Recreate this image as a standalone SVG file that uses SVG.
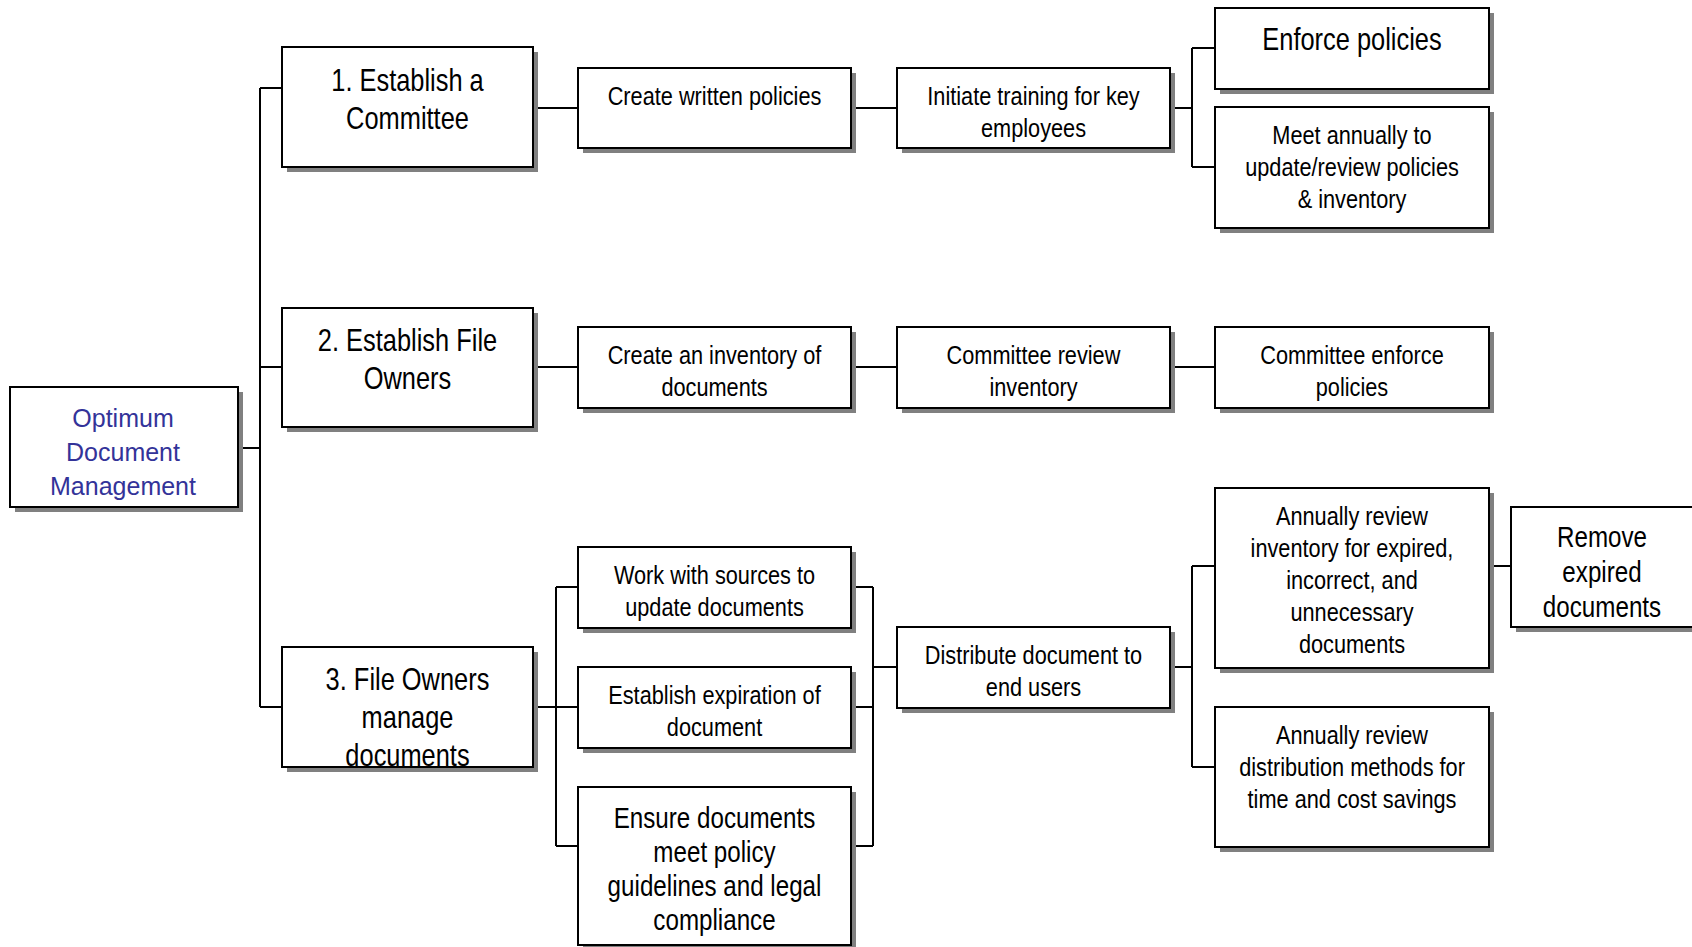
<svg xmlns="http://www.w3.org/2000/svg" width="1692" height="947" viewBox="0 0 1692 947">
  <style>
    .shadow { fill: #808080; }
    .box { fill: #ffffff; stroke: #000000; stroke-width: 2; }
    .wire { fill: none; stroke: #000000; stroke-width: 2; }
    text { font-family: "Liberation Sans", Arial, sans-serif; fill: #000000; text-anchor: middle; }
    .root { font-size: 25px; fill: #333399; }
    .lg { font-size: 31px; }
    .md { font-size: 29.5px; }
    .sm { font-size: 26.5px; }
  </style>
  <rect width="1692" height="947" fill="#ffffff"/>

  <!-- connectors -->
  <g id="connectors" class="wire">
    <path d="M237,448 H260 M260,88 V707 M260,88 H282 M260,367 H282 M260,707 H282"/>
    <path d="M533,108 H578 M851,108 H897 M1170,108 H1192 M1192,48 V167 M1192,48 H1215 M1192,167 H1215"/>
    <path d="M533,367 H578 M851,367 H897 M1170,367 H1215"/>
    <path d="M533,707 H556 M556,587 V846 M556,587 H578 M556,707 H578 M556,846 H578"/>
    <path d="M851,587 H873 M851,707 H873 M851,846 H873 M873,587 V846 M873,667 H897"/>
    <path d="M1170,667 H1192 M1192,566 V767 M1192,566 H1215 M1192,767 H1215 M1489,566 H1511"/>
  </g>

  <!-- root -->
  <g id="node-root">
    <rect class="shadow" x="15" y="392" width="228" height="120"/>
    <rect class="box" x="10" y="387" width="228" height="120"/>
    <text class="root" x="123" y="427">Optimum</text>
    <text class="root" x="123" y="461">Document</text>
    <text class="root" x="123" y="495">Management</text>
  </g>

  <!-- first level (narrow labels: glyphs squeezed horizontally) -->
  <g id="node-committee">
    <rect class="shadow" x="287" y="52" width="251" height="120"/>
    <rect class="box" x="282" y="47" width="251" height="120"/>
    <text class="lg" transform="translate(407.5 91) scale(0.82 1)">1. Establish a</text>
    <text class="lg" transform="translate(407.5 129) scale(0.82 1)">Committee</text>
  </g>
  <g id="node-file-owners">
    <rect class="shadow" x="287" y="313" width="251" height="119"/>
    <rect class="box" x="282" y="308" width="251" height="119"/>
    <text class="lg" transform="translate(407.5 351) scale(0.82 1)">2. Establish File</text>
    <text class="lg" transform="translate(407.5 389) scale(0.82 1)">Owners</text>
  </g>
  <g id="node-manage">
    <rect class="shadow" x="287" y="652" width="251" height="120"/>
    <rect class="box" x="282" y="647" width="251" height="120"/>
    <text class="lg" transform="translate(407.5 690) scale(0.82 1)">3. File Owners</text>
    <text class="lg" transform="translate(407.5 728) scale(0.82 1)">manage</text>
    <text class="lg" transform="translate(407.5 766) scale(0.82 1)">documents</text>
  </g>

  <!-- row 1 -->
  <g id="node-written-policies">
    <rect class="shadow" x="583" y="73" width="273" height="80"/>
    <rect class="box" x="578" y="68" width="273" height="80"/>
    <text class="sm" transform="translate(714.5 105) scale(0.82 1)">Create written policies</text>
  </g>
  <g id="node-training">
    <rect class="shadow" x="902" y="73" width="273" height="80"/>
    <rect class="box" x="897" y="68" width="273" height="80"/>
    <text class="sm" transform="translate(1033.5 105) scale(0.82 1)">Initiate training for key</text>
    <text class="sm" transform="translate(1033.5 137) scale(0.82 1)">employees</text>
  </g>
  <g id="node-enforce">
    <rect class="shadow" x="1220" y="13" width="274" height="81"/>
    <rect class="box" x="1215" y="8" width="274" height="81"/>
    <text class="lg" transform="translate(1352 50) scale(0.82 1)">Enforce policies</text>
  </g>
  <g id="node-meet">
    <rect class="shadow" x="1220" y="112" width="274" height="121"/>
    <rect class="box" x="1215" y="107" width="274" height="121"/>
    <text class="sm" transform="translate(1352 144) scale(0.82 1)">Meet annually to</text>
    <text class="sm" transform="translate(1352 176) scale(0.82 1)">update/review policies</text>
    <text class="sm" transform="translate(1352 208) scale(0.82 1)">&amp; inventory</text>
  </g>

  <!-- row 2 -->
  <g id="node-inventory">
    <rect class="shadow" x="583" y="332" width="273" height="81"/>
    <rect class="box" x="578" y="327" width="273" height="81"/>
    <text class="sm" transform="translate(714.5 364) scale(0.82 1)">Create an inventory of</text>
    <text class="sm" transform="translate(714.5 396) scale(0.82 1)">documents</text>
  </g>
  <g id="node-review-inventory">
    <rect class="shadow" x="902" y="332" width="273" height="81"/>
    <rect class="box" x="897" y="327" width="273" height="81"/>
    <text class="sm" transform="translate(1033.5 364) scale(0.82 1)">Committee review</text>
    <text class="sm" transform="translate(1033.5 396) scale(0.82 1)">inventory</text>
  </g>
  <g id="node-committee-enforce">
    <rect class="shadow" x="1220" y="332" width="274" height="81"/>
    <rect class="box" x="1215" y="327" width="274" height="81"/>
    <text class="sm" transform="translate(1352 364) scale(0.82 1)">Committee enforce</text>
    <text class="sm" transform="translate(1352 396) scale(0.82 1)">policies</text>
  </g>

  <!-- row 3 -->
  <g id="node-sources">
    <rect class="shadow" x="583" y="552" width="273" height="81"/>
    <rect class="box" x="578" y="547" width="273" height="81"/>
    <text class="sm" transform="translate(714.5 584) scale(0.82 1)">Work with sources to</text>
    <text class="sm" transform="translate(714.5 616) scale(0.82 1)">update documents</text>
  </g>
  <g id="node-expiration">
    <rect class="shadow" x="583" y="672" width="273" height="81"/>
    <rect class="box" x="578" y="667" width="273" height="81"/>
    <text class="sm" transform="translate(714.5 704) scale(0.82 1)">Establish expiration of</text>
    <text class="sm" transform="translate(714.5 736) scale(0.82 1)">document</text>
  </g>
  <g id="node-compliance">
    <rect class="shadow" x="583" y="792" width="273" height="160"/>
    <rect class="box" x="578" y="787" width="273" height="158"/>
    <text class="md" transform="translate(714.5 828) scale(0.82 1)">Ensure documents</text>
    <text class="md" transform="translate(714.5 862) scale(0.82 1)">meet policy</text>
    <text class="md" transform="translate(714.5 896) scale(0.82 1)">guidelines and legal</text>
    <text class="md" transform="translate(714.5 930) scale(0.82 1)">compliance</text>
  </g>
  <g id="node-distribute">
    <rect class="shadow" x="902" y="632" width="273" height="81"/>
    <rect class="box" x="897" y="627" width="273" height="81"/>
    <text class="sm" transform="translate(1033.5 664) scale(0.82 1)">Distribute document to</text>
    <text class="sm" transform="translate(1033.5 696) scale(0.82 1)">end users</text>
  </g>
  <g id="node-review-expired">
    <rect class="shadow" x="1220" y="493" width="274" height="180"/>
    <rect class="box" x="1215" y="488" width="274" height="180"/>
    <text class="sm" transform="translate(1352 525) scale(0.82 1)">Annually review</text>
    <text class="sm" transform="translate(1352 557) scale(0.82 1)">inventory for expired,</text>
    <text class="sm" transform="translate(1352 589) scale(0.82 1)">incorrect, and</text>
    <text class="sm" transform="translate(1352 621) scale(0.82 1)">unnecessary</text>
    <text class="sm" transform="translate(1352 653) scale(0.82 1)">documents</text>
  </g>
  <g id="node-review-distribution">
    <rect class="shadow" x="1220" y="712" width="274" height="140"/>
    <rect class="box" x="1215" y="707" width="274" height="140"/>
    <text class="sm" transform="translate(1352 744) scale(0.82 1)">Annually review</text>
    <text class="sm" transform="translate(1352 776) scale(0.82 1)">distribution methods for</text>
    <text class="sm" transform="translate(1352 808) scale(0.82 1)">time and cost savings</text>
  </g>
  <g id="node-remove">
    <rect class="shadow" x="1516" y="512" width="200" height="120"/>
    <rect class="box" x="1511" y="507" width="200" height="120"/>
    <text class="md" transform="translate(1602 547) scale(0.82 1)">Remove</text>
    <text class="md" transform="translate(1602 582) scale(0.82 1)">expired</text>
    <text class="md" transform="translate(1602 617) scale(0.82 1)">documents</text>
  </g>
</svg>
